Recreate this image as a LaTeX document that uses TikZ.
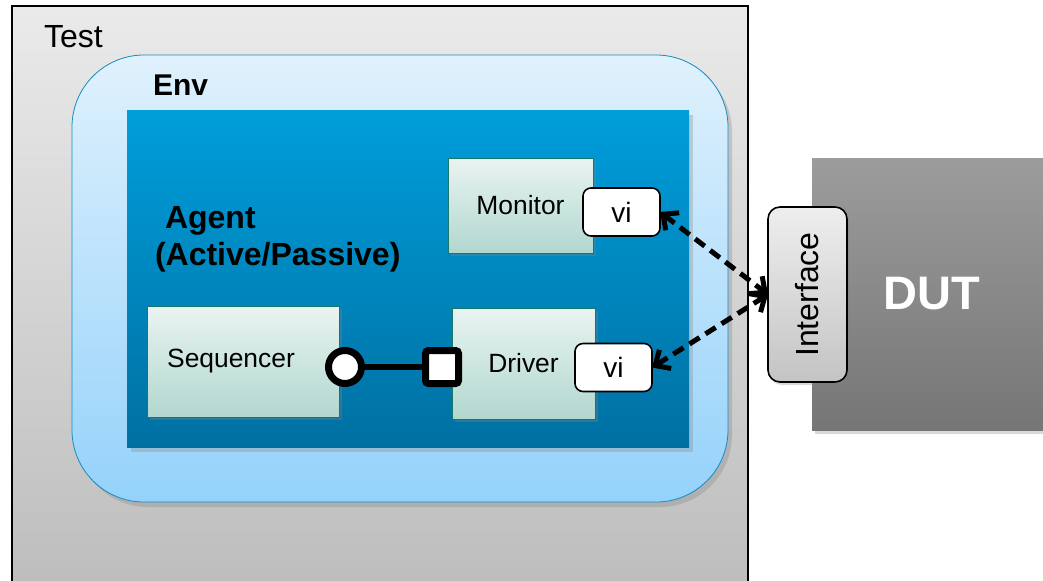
\documentclass[tikz,border=0pt]{standalone}
\usepackage{fontspec}
\setmainfont{Liberation Sans}
\usetikzlibrary{arrows.meta,shadows}
\definecolor{testtop}{HTML}{EAEAEA}
\definecolor{testbot}{HTML}{BDBDBD}
\definecolor{envtop}{HTML}{DFF1FC}
\definecolor{envbot}{HTML}{95D2FB}
\definecolor{envline}{HTML}{148CC0}
\definecolor{agenttop}{HTML}{009EDB}
\definecolor{agentbot}{HTML}{0070A2}
\definecolor{comptop}{HTML}{E9F4F1}
\definecolor{compbot}{HTML}{B1D7CF}
\definecolor{compline}{HTML}{17786A}
\definecolor{duttop}{HTML}{9C9C9C}
\definecolor{dutbot}{HTML}{767676}
\definecolor{iftop}{HTML}{EEEEEE}
\definecolor{ifbot}{HTML}{C4C4C4}
\newcommand{\fsz}[1]{\fontsize{#1}{1.2\dimexpr#1\relax}\selectfont}
\begin{document}
\begin{tikzpicture}[x=0.5pt,y=-0.5pt]
          \useasboundingbox (0,0) rectangle (1043,580);
          \tikzstyle{every node} = [inner sep=0pt, outer sep=0pt];
          \tikzstyle{comp} = [draw=compline, top color=comptop, bottom color=compbot, font=\fsz{13.2pt}, drop shadow={opacity=0.35, shadow xshift=1.5pt, shadow yshift=-1.5pt}];
          \tikzstyle{vibox} = [draw=black, fill=white, thick, rounded corners=4pt, minimum width=38.5pt, minimum height=24pt, font=\fsz{14pt}];
          \tikzstyle{link} = [line width=2.5pt, dash pattern=on 6pt off 3.5pt, {Straight Barb[length=6pt,width=11pt,line width=2.5pt]}-{Straight Barb[length=6pt,width=11pt,line width=2.5pt]}];
          \node[draw=black, semithick, top color=testtop, bottom color=testbot, minimum width=368pt, minimum height=292pt](test) at (380,298) {};
          \node[anchor=base west, font=\fsz{16pt}](testlbl) at (44,47) {Test};
          \node[draw=envline, top color=envtop, bottom color=envbot, rounded corners=36pt, minimum width=328pt, minimum height=223.5pt, drop shadow={opacity=0.3, shadow xshift=2pt, shadow yshift=-2.5pt}](env) at (400,278.5) {};
          \node[anchor=base west, font=\fsz{15pt}\bfseries](envlbl) at (153,95) {Env};
          \node[top color=agenttop, bottom color=agentbot, minimum width=281pt, minimum height=168.5pt, drop shadow={opacity=0.3, shadow xshift=2pt, shadow yshift=-2.5pt}](agent) at (408,278.5) {};
          \node[anchor=base west, align=left, font=\fontsize{16pt}{18.5pt}\selectfont\bfseries](agentlbl) at (155,265) {\hspace*{5pt}Agent\\(Active/Passive)};
          \node[comp, minimum width=72.5pt, minimum height=47.5pt](mon) at (520.5,205.5) {Monitor};
          \node[comp, minimum width=96pt, minimum height=55.5pt](seq) at (243,361.5) {Sequencer\hspace*{12pt}};
          \node[comp, minimum width=71.5pt, minimum height=55.5pt](drv) at (523.5,363.5) {Driver};
          \node[vibox](vimon) at (621.5,212) {vi};
          \node[vibox](vidrv) at (613.5,367.5) {vi};
          \node[circle, draw=black, fill=white, line width=3.5pt, minimum size=16.5pt](port) at (345,367) {};
          \node[draw=black, fill=white, line width=3.5pt, rounded corners=1.5pt, minimum size=16.5pt](export) at (442,367) {};
          \path[line width=3pt]
          (port) edge (export);
          \node[top color=duttop, bottom color=dutbot, minimum width=124pt, minimum height=136pt, drop shadow={opacity=0.3, shadow xshift=1.5pt, shadow yshift=-2pt}, text=white, font=\fsz{23.5pt}\bfseries](dut) at (936,294) {\hspace*{-4pt}DUT};
          \node[draw=black, thick, top color=iftop, bottom color=ifbot, rounded corners=6pt, minimum width=39.5pt, minimum height=87.5pt, drop shadow={opacity=0.3, shadow xshift=1pt, shadow yshift=-1.5pt}](iface) at (807.5,294.5) {};
          \node[rotate=90, font=\fsz{16pt}](ifacelbl) at (iface.center) {Interface};
          \path[link]
          (vimon.east) edge (iface.west);
          \path[link]
          (vidrv.east) edge (iface.west);
          \end{tikzpicture}
\end{document}
